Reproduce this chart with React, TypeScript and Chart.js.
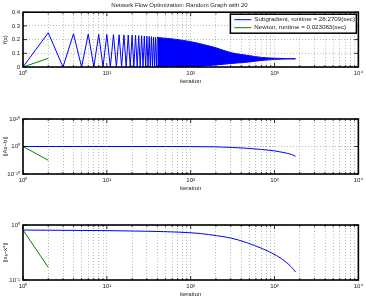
import { useEffect, useRef } from "react";
import { Chart, registerables } from "chart.js";
Chart.register(...registerables);

// ---------- text ----------
const TITLE = "Network Flow Optimization: Random Graph with 20";
const SERIES_NAMES = ["Subgradient, runtime = 28.2709(sec)", "Newton, runtime = 0.023083(sec)"];
const X_LABEL = "iteration";
const Y_LABELS = ["f(x)", "||Ax\u2212b||", "||x\u2096\u2212x*||"];
const COLORS = ["#0000ff", "#008000"];

// ---------- plot 1: f(x) ----------
const SUB_EARLY_ITERS = [1, 2, 3, 4, 5, 6, 7, 8, 9, 10, 11, 12, 13, 14, 15, 16, 17, 18, 19, 20, 21, 22, 23, 24, 25, 26, 27, 28, 29, 30, 31, 32, 33, 34, 35, 36, 37, 38, 39, 40];
const SUB_EARLY_F = [0, 0.25, 0, 0.242, 0, 0.24, 0, 0.238, 0, 0.237, 0, 0.236, 0, 0.235, 0, 0.234, 0, 0.233, 0, 0.232, 0, 0.231, 0, 0.229, 0, 0.228, 0, 0.226, 0, 0.225, 0, 0.223, 0, 0.221, 0, 0.219, 0, 0.217, 0, 0.215];
const SUB_UPPER_ITERS = [40, 60, 100, 150, 200, 300, 500, 700, 1000, 1400, 1780];
const SUB_UPPER_F = [0.215, 0.205, 0.185, 0.16, 0.14, 0.105, 0.083, 0.07, 0.064, 0.061, 0.06];
const SUB_LOWER_ITERS = [40, 90, 150, 200, 300, 500, 700, 1000, 1400, 1780];
const SUB_LOWER_F = [0, 0, 0.008, 0.015, 0.025, 0.037, 0.048, 0.056, 0.059, 0.06];
const NEWTON_ITERS = [1, 2];
const NEWTON_F = [0, 0.063];

// ---------- plot 2: ||Ax-b|| ----------
const SUB_RES_ITERS = [1, 10, 50, 100, 200, 316, 500, 700, 1000, 1300, 1600, 1780];
const SUB_RES = [1, 1, 0.97, 0.92, 0.75, 0.45, 0.2, 0.08, 0.025, 0.006, 0.0012, 0.0003];
const NEWTON_RES = [1, 1e-5];

// ---------- plot 3: ||x_k - x*|| ----------
const SUB_ERR_ITERS = [1, 10, 30, 74, 130, 203, 300, 460, 720, 1050, 1380, 1600, 1780];
const SUB_ERR = [0.81, 0.79, 0.77, 0.74, 0.7, 0.64, 0.58, 0.48, 0.37, 0.28, 0.21, 0.17, 0.14];
const NEWTON_ERR = [0.81, 0.17];

// ---------- axes ----------
const X_MIN = 1;
const X_MAX = 10000;
const X_DECADES = [1, 10, 100, 1000];
const X_MULTS = [1, 2, 3, 4, 5, 6, 7, 8, 9];
const Y1_TICKS = [0, 0.1, 0.2, 0.3, 0.4];
const Y2_TICKS = [1e-10, 1, 1e10];
const Y3_TICKS = [0.1, 1];

const FONT = "'Liberation Sans', Arial, sans-serif";
const TEXT = "#222";

const pts = (xs: number[], ys: number[]) => xs.map((x, i) => ({ x, y: ys[i] }));
const isPow10 = (v: number) => v > 0 && Math.abs(Math.log10(v) - Math.round(Math.log10(v))) < 1e-9;
const SUP: Record<string, string> = { "0": "\u2070", "1": "\u00b9", "2": "\u00b2", "3": "\u00b3", "4": "\u2074", "5": "\u2075", "6": "\u2076", "7": "\u2077", "8": "\u2078", "9": "\u2079", "-": "\u207b" };
const pow10Label = (v: number) => "10" + String(Math.round(Math.log10(v))).split("").map((c) => SUP[c]).join("");

const xTicks: number[] = [];
X_DECADES.forEach((d) => X_MULTS.forEach((m) => xTicks.push(d * m)));
xTicks.push(X_MAX);

const framePlugin = {
  id: "frame",
  afterDatasetsDraw(chart: any) {
    const { ctx, chartArea: a, scales } = chart;
    ctx.save();
    ctx.strokeStyle = "#000";
    ctx.lineWidth = 0.8;
    const seg = (x1: number, y1: number, x2: number, y2: number) => {
      ctx.beginPath();
      ctx.moveTo(x1, y1);
      ctx.lineTo(x2, y2);
      ctx.stroke();
    };
    const xs = scales.x;
    xs.ticks.forEach((t: any) => {
      const px = xs.getPixelForValue(t.value);
      const len = isPow10(t.value) ? 4 : 2;
      seg(px, a.bottom, px, a.bottom - len);
      seg(px, a.top, px, a.top + len);
    });
    const ys = scales.y;
    ys.ticks.forEach((t: any) => {
      const py = ys.getPixelForValue(t.value);
      seg(a.left, py, a.left + 4, py);
      seg(a.right, py, a.right - 4, py);
    });
    ctx.lineWidth = 1.6;
    ctx.strokeRect(a.left, a.top, a.right - a.left, a.bottom - a.top);
    ctx.restore();
  },
};

const legendPlugin = {
  id: "boxLegend",
  afterDraw(chart: any) {
    const { ctx, chartArea: a } = chart;
    const w = 126;
    const h = 19;
    const x0 = a.right - 2 - w;
    const y0 = a.top + 2;
    ctx.save();
    ctx.fillStyle = "#fff";
    ctx.fillRect(x0, y0, w, h);
    ctx.strokeStyle = "#000";
    ctx.lineWidth = 1.5;
    ctx.strokeRect(x0, y0, w, h);
    ctx.font = "6.2px " + FONT;
    ctx.textBaseline = "middle";
    SERIES_NAMES.forEach((name, i) => {
      const y = y0 + 5.5 + i * 8;
      ctx.strokeStyle = COLORS[i];
      ctx.lineWidth = 1;
      ctx.beginPath();
      ctx.moveTo(x0 + 4, y);
      ctx.lineTo(x0 + 21, y);
      ctx.stroke();
      ctx.fillStyle = TEXT;
      ctx.fillText(name, x0 + 24, y);
    });
    ctx.restore();
  },
};

function xScale() {
  return {
    type: "logarithmic" as const,
    min: X_MIN,
    max: X_MAX,
    afterBuildTicks: (s: any) => {
      s.ticks = xTicks.map((v) => ({ value: v }));
    },
    afterFit: (s: any) => {
      s.height = 20;
    },
    ticks: {
      autoSkip: false,
      maxRotation: 0,
      padding: 3,
      color: TEXT,
      font: { size: 6, family: FONT },
      callback: (v: any) => (isPow10(Number(v)) ? pow10Label(Number(v)) : ""),
    },
    grid: { color: "rgba(0,0,0,0.4)", lineWidth: 0.7, drawTicks: false },
    border: { display: false, dash: [1, 2] },
    title: { display: true, text: X_LABEL, color: TEXT, font: { size: 6, family: FONT }, padding: { top: 2, bottom: 2 } },
  };
}

function yScale(kind: number) {
  const common = {
    afterFit: (s: any) => {
      s.width = 23;
    },
    border: { display: false, dash: [1, 2] },
    title: { display: true, text: Y_LABELS[kind], color: TEXT, font: { size: 6, family: FONT }, padding: { top: 2, bottom: 2 } },
  };
  if (kind === 0) {
    return {
      ...common,
      type: "linear" as const,
      min: 0,
      max: 0.4,
      afterBuildTicks: (s: any) => {
        s.ticks = Y1_TICKS.map((v) => ({ value: v }));
      },
      ticks: { padding: 3, color: TEXT, font: { size: 6, family: FONT }, callback: (v: any) => (Number(v) === 0 ? "0" : Number(v).toFixed(1)) },
      grid: { color: "rgba(0,0,0,0.4)", lineWidth: 0.7, drawTicks: false },
    };
  }
  const tv = kind === 1 ? Y2_TICKS : Y3_TICKS;
  return {
    ...common,
    type: "logarithmic" as const,
    min: tv[0],
    max: tv[tv.length - 1],
    afterBuildTicks: (s: any) => {
      s.ticks = tv.map((v) => ({ value: v }));
    },
    ticks: { padding: 3, color: TEXT, font: { size: 6, family: FONT }, callback: (v: any) => pow10Label(Number(v)) },
    grid: { color: "rgba(0,0,0,0.4)", lineWidth: 0.7, drawTicks: false },
  };
}

const line = (data: any[], color: string, extra: any = {}) => ({
  data,
  borderColor: color,
  backgroundColor: color,
  borderWidth: 1,
  pointRadius: 0,
  fill: false,
  ...extra,
});

function makeConfig(kind: number): any {
  let datasets: any[];
  if (kind === 0) {
    datasets = [
      line(pts(NEWTON_ITERS, NEWTON_F), COLORS[1]),
      line(pts(SUB_EARLY_ITERS, SUB_EARLY_F), COLORS[0]),
      line(pts(SUB_UPPER_ITERS, SUB_UPPER_F), COLORS[0], { fill: "+1", backgroundColor: COLORS[0], cubicInterpolationMode: "monotone" }),
      line(pts(SUB_LOWER_ITERS, SUB_LOWER_F), COLORS[0], { cubicInterpolationMode: "monotone" }),
    ];
  } else if (kind === 1) {
    datasets = [
      line(pts(NEWTON_ITERS, NEWTON_RES), COLORS[1]),
      line(pts(SUB_RES_ITERS, SUB_RES), COLORS[0], { cubicInterpolationMode: "monotone" }),
    ];
  } else {
    datasets = [
      line(pts(NEWTON_ITERS, NEWTON_ERR), COLORS[1]),
      line(pts(SUB_ERR_ITERS, SUB_ERR), COLORS[0], { cubicInterpolationMode: "monotone" }),
    ];
  }
  const paddings = [
    { top: 1, bottom: 13, left: 0, right: 7 },
    { top: 19, bottom: 6, left: 0, right: 7 },
    { top: 25, bottom: 3, left: 0, right: 7 },
  ];
  return {
    type: "line",
    data: { datasets },
    options: {
      animation: false,
      responsive: false,
      devicePixelRatio: 1,
      layout: { padding: paddings[kind] },
      scales: { x: xScale(), y: yScale(kind) },
      plugins: {
        legend: { display: false },
        tooltip: { enabled: false },
        title:
          kind === 0
            ? { display: true, text: TITLE, color: TEXT, font: { size: 6, family: FONT, weight: "normal" }, padding: { top: 1, bottom: 3 } }
            : { display: false },
      },
    },
    plugins: kind === 0 ? [framePlugin, legendPlugin] : [framePlugin],
  };
}

const HEIGHTS = [100, 100, 103];
const TOPS = [0, 100, 200];

function Panel({ kind }: { kind: number }) {
  const ref = useRef<HTMLCanvasElement | null>(null);
  useEffect(() => {
    if (!ref.current) return;
    const chart = new Chart(ref.current, makeConfig(kind));
    return () => chart.destroy();
  }, [kind]);
  return (
    <canvas
      ref={ref}
      width={366}
      height={HEIGHTS[kind]}
      style={{ position: "absolute", left: 0, top: TOPS[kind], width: 366, height: HEIGHTS[kind] }}
    />
  );
}

export default function App() {
  return (
    <div style={{ position: "fixed", left: 0, top: 0, width: 366, height: 303, background: "#fff" }}>
      <Panel kind={0} />
      <Panel kind={1} />
      <Panel kind={2} />
    </div>
  );
}
